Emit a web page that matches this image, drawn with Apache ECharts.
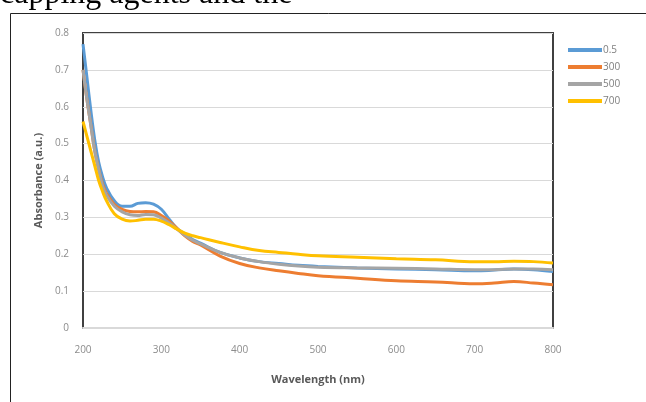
<!DOCTYPE html>
<html>
<head>
    <meta charset="utf-8">
    <title>Absorbance</title>
    <script src="https://cdn.jsdelivr.net/npm/echarts@6/dist/echarts.min.js"></script>
    <style>
        html, body { margin: 0; padding: 0; background: #fff; }
        #main { width: 646px; height: 402px; }
    </style>
</head>
<body>
    <div id="main"></div>
    <script type="text/javascript">
        // wavelength (nm)
        var wavelength = [200, 205, 210, 215, 220, 225, 230, 240, 250, 260, 270, 280, 290, 300, 310, 320, 330, 340, 350, 375, 400, 425, 450, 475, 500, 550, 600, 650, 700, 725, 750, 775, 800];
        var names = ['0.5', '300', '500', '700'];
        var colors = ['#5B9BD5', '#ED7D31', '#A5A5A5', '#FFC000'];

        var abs05 = [0.77, 0.68, 0.59, 0.51, 0.45, 0.41, 0.38, 0.345, 0.33, 0.33, 0.338, 0.34, 0.336, 0.322, 0.295, 0.27, 0.255, 0.24, 0.23, 0.205, 0.19, 0.18, 0.175, 0.17, 0.167, 0.163, 0.16, 0.158, 0.155, 0.157, 0.16, 0.158, 0.153];
        var abs300 = [0.70, 0.62, 0.55, 0.48, 0.43, 0.39, 0.365, 0.335, 0.322, 0.316, 0.315, 0.316, 0.315, 0.305, 0.29, 0.27, 0.25, 0.235, 0.225, 0.195, 0.175, 0.163, 0.155, 0.148, 0.142, 0.135, 0.128, 0.125, 0.12, 0.122, 0.126, 0.122, 0.117];
        var abs500 = [0.70, 0.62, 0.55, 0.48, 0.43, 0.385, 0.36, 0.33, 0.315, 0.307, 0.305, 0.308, 0.307, 0.298, 0.285, 0.268, 0.252, 0.238, 0.228, 0.205, 0.19, 0.18, 0.173, 0.168, 0.165, 0.163, 0.162, 0.16, 0.158, 0.158, 0.16, 0.16, 0.158];
        var abs700 = [0.56, 0.52, 0.48, 0.44, 0.40, 0.37, 0.345, 0.31, 0.295, 0.29, 0.292, 0.295, 0.295, 0.29, 0.28, 0.268, 0.257, 0.25, 0.245, 0.232, 0.22, 0.21, 0.205, 0.2, 0.196, 0.192, 0.188, 0.185, 0.18, 0.18, 0.181, 0.18, 0.176];

        var allData = [abs05, abs300, abs500, abs700];

        function pairs(ys) {
            var out = [];
            for (var i = 0; i < wavelength.length; i++) {
                out.push([wavelength[i], ys[i]]);
            }
            return out;
        }

        var series = [];
        for (var s = 0; s < names.length; s++) {
            series.push({
                name: names[s],
                type: 'line',
                smooth: 0.4,
                showSymbol: false,
                data: pairs(allData[s]),
                lineStyle: { width: 3, color: colors[s] },
                itemStyle: { color: colors[s] }
            });
        }

        var myChart = echarts.init(document.getElementById('main'));

        var option = {
            animation: false,
            textStyle: { fontFamily: 'Open Sans' },
            graphic: [
                {
                    type: 'text',
                    left: 0,
                    top: -21,
                    style: {
                        text: 'capping agents and the',
                        font: '32px "Liberation Serif"',
                        fill: '#000'
                    }
                },
                {
                    type: 'rect',
                    shape: { x: 10.5, y: 13.5, width: 700, height: 500 },
                    style: { fill: 'none', stroke: '#222', lineWidth: 1 },
                    z: -1
                }
            ],
            legend: {
                orient: 'vertical',
                left: 563,
                top: 40,
                itemWidth: 34,
                itemHeight: 4,
                itemGap: 7,
                icon: 'rect',
                textStyle: { color: '#7f7f7f', fontSize: 10, padding: [0, 0, 0, -4] },
                data: names
            },
            grid: {
                left: 83,
                right: 93,
                top: 33,
                bottom: 74,
                show: true,
                borderColor: '#404040',
                borderWidth: 2
            },
            xAxis: {
                type: 'value',
                min: 200,
                max: 800,
                interval: 100,
                name: 'Wavelength (nm)',
                nameLocation: 'middle',
                nameGap: 46,
                nameTextStyle: { color: '#595959', fontSize: 11, fontWeight: 'bold' },
                axisLine: { lineStyle: { color: '#d9d9d9', width: 2 } },
                axisTick: { show: false },
                axisLabel: { color: '#8c8c8c', fontSize: 10, margin: 17 },
                splitLine: { show: false }
            },
            yAxis: {
                type: 'value',
                min: 0,
                max: 0.8,
                interval: 0.1,
                name: 'Absorbance (a.u.)',
                nameLocation: 'middle',
                nameGap: 38,
                nameTextStyle: { color: '#595959', fontSize: 11, fontWeight: 'bold' },
                axisLine: { show: false },
                axisTick: { show: false },
                axisLabel: { color: '#8c8c8c', fontSize: 10, margin: 14 },
                splitLine: { lineStyle: { color: '#d9d9d9', width: 1 } }
            },
            series: series
        };

        myChart.setOption(option);
    </script>
</body>
</html>
